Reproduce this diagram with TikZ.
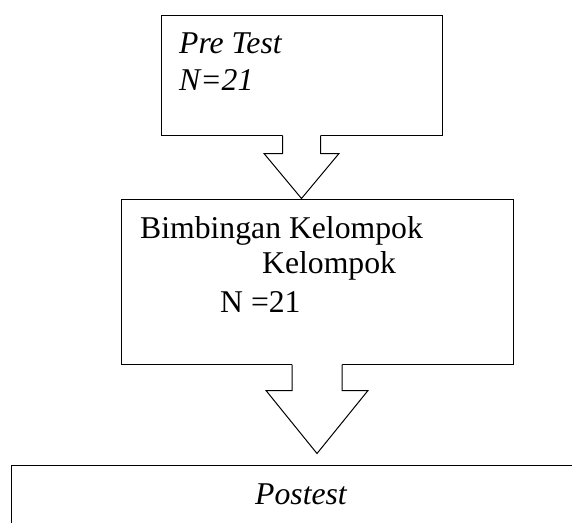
\documentclass[tikz,border=0pt]{standalone}
\usepackage{fontspec}
\setmainfont{Liberation Serif}
\usetikzlibrary{calc}
\begin{document}
\begin{tikzpicture}[x=1pt,y=-1pt,
  boxstyle/.style={draw=black,line width=1pt,fill=white,rectangle,inner sep=0pt},
  txt/.style={inner sep=0pt,anchor=base west,font=\fontsize{31.7}{37}\selectfont},
  itxt/.style={txt,font=\fontsize{31.7}{37}\selectfont\itshape},
  arrowline/.style={draw=black,line width=1pt,line join=miter}]
\useasboundingbox (0,0) rectangle (572,522);
\clip (0,0) rectangle (572,522);
% boxes
\node[boxstyle,minimum width=281pt,minimum height=120pt] (pre) at (301.5,75) {};
\node[boxstyle,minimum width=392pt,minimum height=165pt] (mid) at (317,281.5) {};
\node[boxstyle,minimum width=600pt,minimum height=120pt,anchor=north west] (post) at (11,465) {};
% block arrow 1: pre -> mid
\coordinate (a1) at (pre.south);
\coordinate (t1) at (pre.south |- mid.north);
\fill[white] ($(a1)+(-19,-1)$) -- ($(a1)+(-19,18)$) -- ($(a1)+(-37.5,18)$) -- (t1) -- ($(a1)+(37.5,18)$) -- ($(a1)+(19,18)$) -- ($(a1)+(19,-1)$) -- cycle;
\draw[arrowline] ($(a1)+(-19,0)$) -- ($(a1)+(-19,18)$) -- ($(a1)+(-37.5,18)$) -- (t1) -- ($(a1)+(37.5,18)$) -- ($(a1)+(19,18)$) -- ($(a1)+(19,0)$);
% block arrow 2: mid -> post
\coordinate (a2) at (mid.south);
\coordinate (t2) at ($(mid.south)+(0,89)$);
\fill[white] ($(a2)+(-25,-1)$) -- ($(a2)+(-25,26)$) -- ($(a2)+(-51,26)$) -- (t2) -- ($(a2)+(51,26)$) -- ($(a2)+(25,26)$) -- ($(a2)+(25,-1)$) -- cycle;
\draw[arrowline] ($(a2)+(-25,0)$) -- ($(a2)+(-25,26)$) -- ($(a2)+(-51,26)$) -- (t2) -- ($(a2)+(51,26)$) -- ($(a2)+(25,26)$) -- ($(a2)+(25,0)$);
% texts
\node[itxt] (pretxt) at (179,53) {Pre Test};
\node[itxt] (pren) at (179,90) {N=21};
\node[txt] (midtxt) at (140,238) {Bimbingan Kelompok};
\node[txt] (midtxt2) at (262,273) {Kelompok};
\node[txt] (midn) at (220,312) {N =21};
\node[itxt] (posttxt) at (255,504) {Postest};
\end{tikzpicture}
\end{document}
